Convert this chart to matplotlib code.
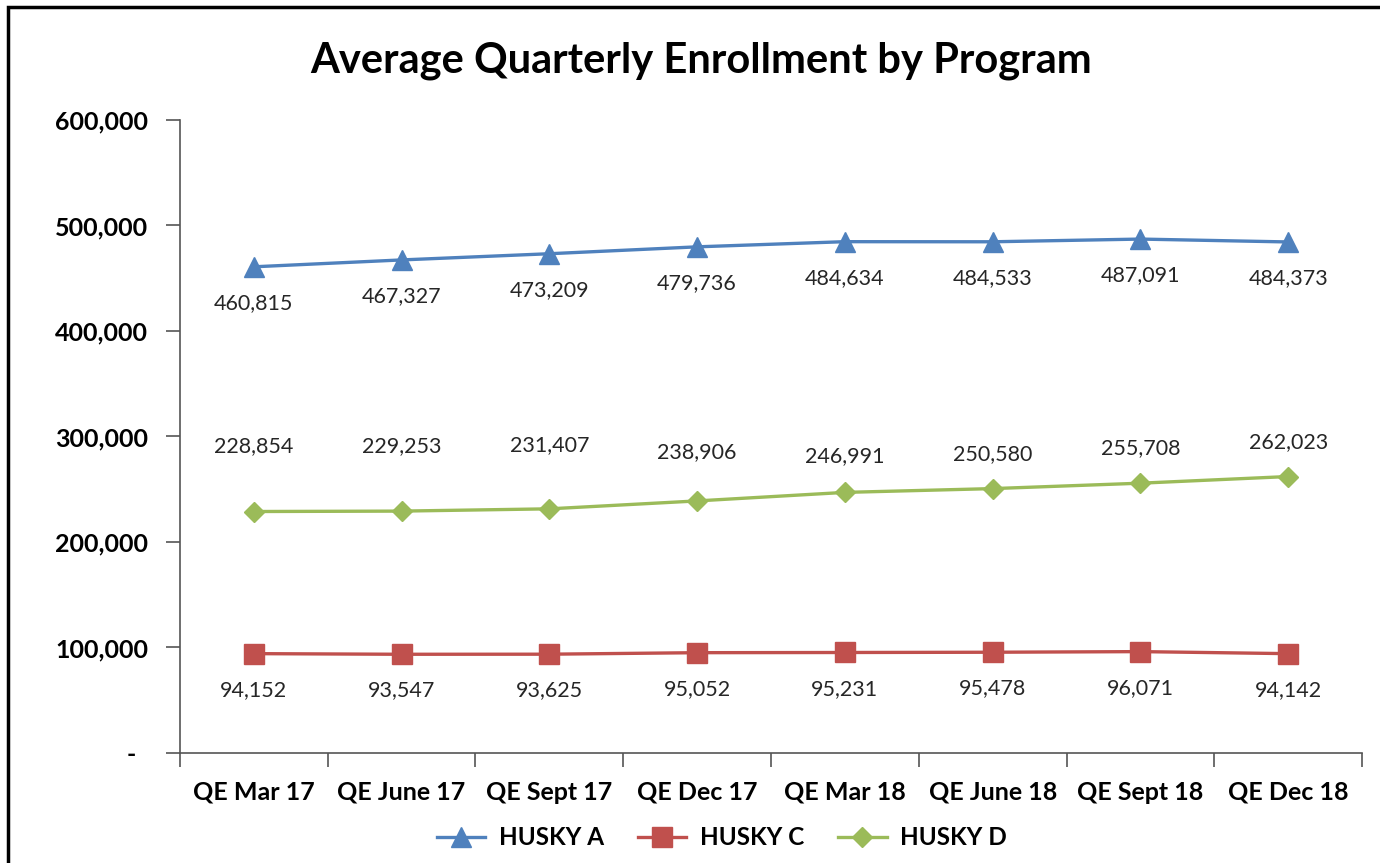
import matplotlib.pyplot as plt
from matplotlib.patches import Rectangle
from matplotlib.ticker import FuncFormatter

plt.rcParams['font.family'] = ['Lato', 'DejaVu Sans']

quarters = ['QE Mar 17', 'QE June 17', 'QE Sept 17', 'QE Dec 17',
            'QE Mar 18', 'QE June 18', 'QE Sept 18', 'QE Dec 18']
husky_a = [460815, 467327, 473209, 479736, 484634, 484533, 487091, 484373]
husky_c = [94152, 93547, 93625, 95052, 95231, 95478, 96071, 94142]
husky_d = [228854, 229253, 231407, 238906, 246991, 250580, 255708, 262023]

# label offsets in points (Excel placed the first few green ones higher)
off_a = [-26] * 8
off_c = [-26] * 8
off_d = [47, 47, 46, 35, 26, 25, 25, 25]

blue = '#4F81BD'
red = '#C0504D'
green = '#9BBB59'

fig = plt.figure(figsize=(13.8, 8.63), dpi=100)
ax = fig.add_axes([0.1304, 0.1275, 0.8566, 0.7335])

x = list(range(len(quarters)))
ax.plot(x, husky_a, color=blue, lw=2.4, marker='^', ms=15, label='HUSKY A')
ax.plot(x, husky_c, color=red, lw=2.4, marker='s', ms=14, label='HUSKY C')
ax.plot(x, husky_d, color=green, lw=2.4, marker='D', ms=10, label='HUSKY D')

for series, offs in ((husky_a, off_a), (husky_c, off_c), (husky_d, off_d)):
    for i, v in enumerate(series):
        ax.annotate(f'{v:,}', (i, v), xytext=(0, offs[i]), textcoords='offset points',
                    ha='center', va='center', fontsize=15.5, color='#262626')

ax.set_xlim(-0.5, len(quarters) - 0.5)
ax.set_ylim(0, 600000)
ax.set_yticks(range(0, 600001, 100000))
ax.yaxis.set_major_formatter(FuncFormatter(lambda v, p: '-  ' if v == 0 else f'{int(v):,}'))

ax.set_xticks([i - 0.5 for i in range(len(quarters) + 1)])
ax.set_xticklabels([])
ax.set_xticks(x, minor=True)
ax.set_xticklabels(quarters, minor=True)
ax.tick_params(axis='x', which='major', length=10, width=1.2, color='#555555')
ax.tick_params(axis='x', which='minor', length=0, pad=20, labelsize=18)
ax.tick_params(axis='y', length=10, width=1.2, color='#555555', pad=13, labelsize=18)
for lab in ax.get_xticklabels(minor=True) + ax.get_yticklabels():
    lab.set_fontweight('bold')

for s in ('top', 'right'):
    ax.spines[s].set_visible(False)
for s in ('left', 'bottom'):
    ax.spines[s].set_color('#555555')
    ax.spines[s].set_linewidth(1.2)

fig.text(0.508, 0.930, 'Average Quarterly Enrollment by Program', ha='center', va='center',
         fontsize=30, fontweight='bold')

leg = fig.legend(loc='center', bbox_to_anchor=(0.523, 0.029), ncol=3, frameon=False,
                 prop={'size': 17.5, 'weight': 'bold'}, handlelength=2, columnspacing=1.4,
                 handletextpad=0.55)

fig.patches.append(Rectangle((8 / 1380, -0.2), 1.5, 1.2 - 7 / 863, transform=fig.transFigure,
                             fill=False, ec='black', lw=2.5, clip_on=False))

fig.savefig('out.png', dpi=100)
